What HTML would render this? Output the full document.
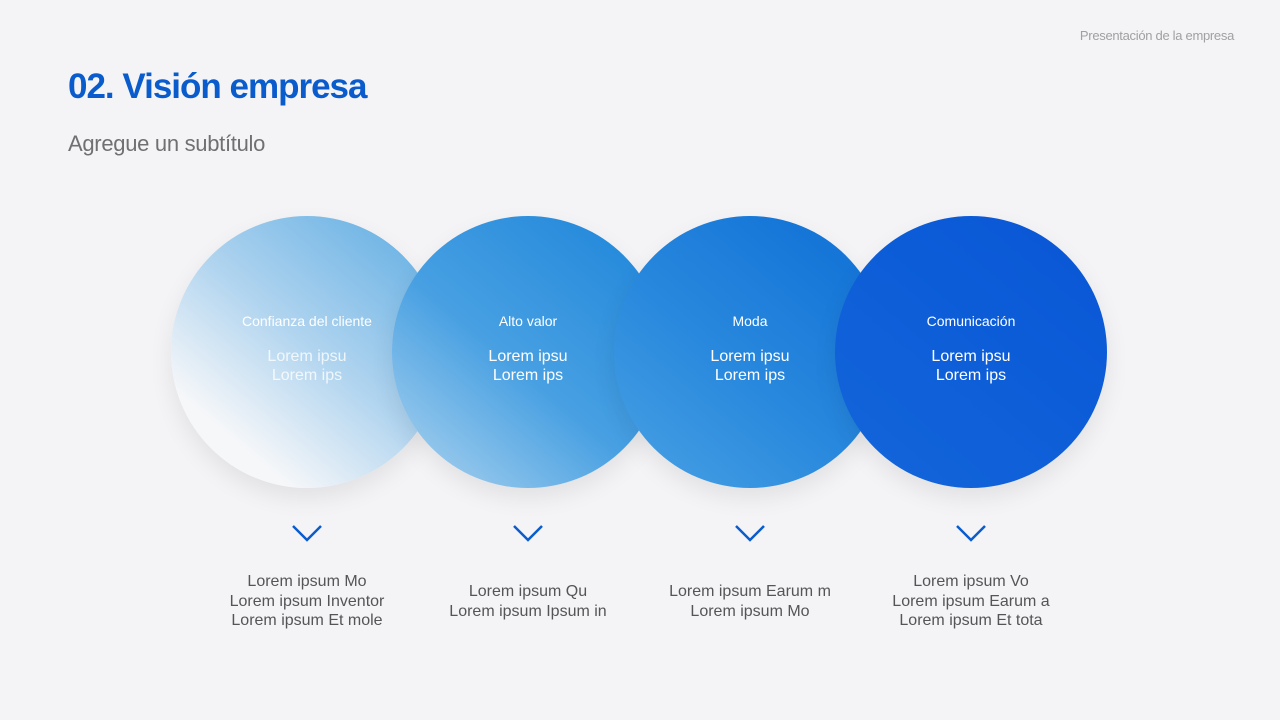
<!DOCTYPE html>
<html><head><meta charset="utf-8"><style>
body{margin:0;width:1280px;height:720px;background:#f4f4f6;font-family:"Liberation Sans","Noto Sans CJK JP",sans-serif;position:relative;overflow:hidden}
.a{position:absolute}
.hdr{right:46px;top:28px;font-size:13px;color:#a0a0a4;letter-spacing:-0.3px}
.t{left:68px;top:67px;font-size:35px;font-weight:bold;color:#0a5ccc;letter-spacing:-1px}
.s{left:68px;top:131px;font-size:22px;color:#707074;letter-spacing:-0.3px}
.c{width:272px;height:272px;border-radius:50%;top:216px;box-shadow:0 10px 24px rgba(0,0,0,.08);color:#fff;text-align:center}
.c .h{position:absolute;left:0;right:0;top:97px;font-size:14px}
.c .b{position:absolute;left:0;right:0;top:131px;font-size:16px;line-height:19px}
.bt{width:240px;text-align:center;font-size:16px;line-height:19.5px;color:#555558}
</style></head><body>
<div class="a hdr">Presentación de la empresa</div>
<div class="a t">02. Visión empresa</div>
<div class="a s">Agregue un subtítulo</div>

<div class="a c" style="left:171px;background:linear-gradient(40deg,#f6f7f9 20%,#b0d4ef 52%,#5aaae2 100%)"><div class="h">Confianza del cliente</div><div class="b" style="opacity:.8">Lorem ipsu<br>Lorem ips</div></div>
<div class="a c" style="left:392px;background:linear-gradient(40deg,#a6d0ee 5%,#48a0e2 45%,#1c84da 100%)"><div class="h">Alto valor</div><div class="b">Lorem ipsu<br>Lorem ips</div></div>
<div class="a c" style="left:614px;background:linear-gradient(40deg,#4aa2e4 0%,#2888dd 45%,#0e6ed6 100%)"><div class="h">Moda</div><div class="b">Lorem ipsu<br>Lorem ips</div></div>
<div class="a c" style="left:835px;background:linear-gradient(40deg,#1466da 0%,#0c5cd8 60%,#0a56d4 100%)"><div class="h">Comunicación</div><div class="b">Lorem ipsu<br>Lorem ips</div></div>

<svg class="a" style="left:0;top:0" width="1280" height="720">
<g fill="none" stroke="#0a5ccc" stroke-width="2.5">
<polyline points="293,526 307,540 321,526"/>
<polyline points="514,526 528,540 542,526"/>
<polyline points="736,526 750,540 764,526"/>
<polyline points="957,526 971,540 985,526"/>
</g></svg>

<div class="a bt" style="left:187px;top:572px">Lorem ipsum Mo<br>Lorem ipsum Inventor<br>Lorem ipsum Et mole</div>
<div class="a bt" style="left:408px;top:582px">Lorem ipsum Qu<br>Lorem ipsum Ipsum in</div>
<div class="a bt" style="left:630px;top:582px">Lorem ipsum Earum m<br>Lorem ipsum Mo</div>
<div class="a bt" style="left:851px;top:572px">Lorem ipsum Vo<br>Lorem ipsum Earum a<br>Lorem ipsum Et tota</div>
</body></html>
